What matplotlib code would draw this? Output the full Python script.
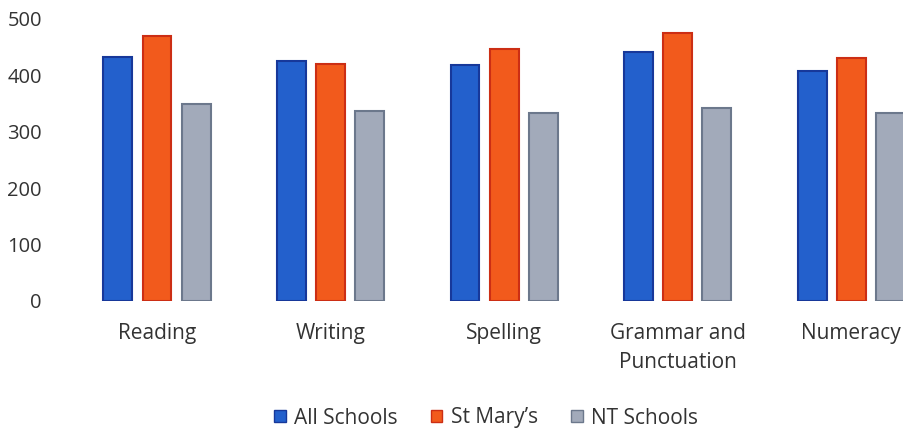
import numpy as np
import matplotlib.pyplot as plt
from matplotlib.patches import Patch

plt.rcParams['font.family'] = ['Open Sans', 'DejaVu Sans']

subjects = ["Reading", "Writing", "Spelling", "Grammar and\nPunctuation", "Numeracy"]
series = ["All Schools", "St Mary\u2019s", "NT Schools"]
all_schools = [432, 425, 418, 441, 408]
st_marys = [470, 421, 447, 475, 431]
nt_schools = [349, 337, 333, 343, 334]

faces = ["#2360cc", "#f25a1c", "#a2aaba"]
edges = ["#17389a", "#cc2e14", "#6c788c"]
text_col = "#333333"

fig = plt.figure(figsize=(9.04, 4.32), dpi=100)
ax = fig.add_axes([60/904, 131/432, 844/904, 282/432])

x = np.arange(len(subjects))
w = 0.167
off = 0.225
for i, vals in enumerate([all_schools, st_marys, nt_schools]):
    ax.bar(x + (i - 1) * off, vals, w, color=faces[i], edgecolor=edges[i],
           linewidth=1.5)

ax.set_xlim(-0.559, 4.305)
ax.set_ylim(0, 500)
ax.set_yticks(range(0, 501, 100))
ax.set_xticks(x)
ax.set_xticklabels(subjects, fontsize=15, color=text_col, linespacing=1.5)
ax.tick_params(axis='y', length=0, pad=13, labelsize=14.5, labelcolor=text_col)
ax.tick_params(axis='x', length=0, pad=16)
for s in ax.spines.values():
    s.set_visible(False)

handles = [Patch(facecolor=faces[i], edgecolor=edges[i], label=series[i]) for i in range(3)]
fig.legend(handles=handles, loc='center', bbox_to_anchor=(486/904, 1 - 418/432),
           ncol=3, frameon=False, fontsize=15, labelcolor=text_col,
           handlelength=0.55, handleheight=0.55, handletextpad=0.4, columnspacing=1.6)

fig.savefig("out.png", dpi=100)
